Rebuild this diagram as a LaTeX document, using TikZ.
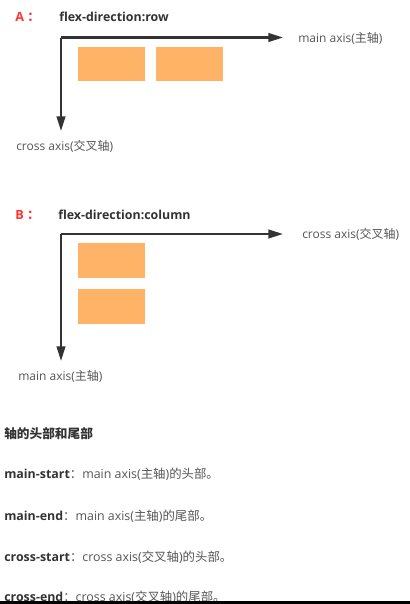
\documentclass[tikz,border=0pt]{standalone}
\usepackage{fontspec}
\setmainfont{Open Sans}
\newfontfamily\cjk{Noto Sans CJK SC}
\usepackage{xcolor}
\definecolor{boxorange}{RGB}{255,179,102}
\definecolor{axisgray}{RGB}{ 51, 51, 51}
\definecolor{labelgray}{RGB}{ 85, 85, 85}
\definecolor{tagred}{RGB}{255, 51, 51}
\usepackage{tikz}
\usetikzlibrary{arrows.meta, positioning}

\begin{document}
\begin{tikzpicture}[x=0.75pt, y=-0.75pt,
    axis/.style={draw=axisgray, line width=1.6pt, -{Triangle[length=11pt, width=6.5pt]}},
    itembox/.style={fill=boxorange, draw=none, minimum width=50pt, minimum height=26pt, inner sep=0pt, anchor=north west},
    tag/.style={text=tagred, font=\fontsize{9.5}{11}\selectfont\bfseries, anchor=west, inner sep=0pt},
    heading/.style={text=axisgray, font=\fontsize{9.3}{11}\selectfont\bfseries, anchor=west, inner sep=0pt},
    axislabel/.style={text=labelgray, font=\fontsize{9}{11}\selectfont, anchor=west, inner sep=0pt},
    noteline/.style={text=labelgray, font=\fontsize{9.3}{11}\selectfont, anchor=west, inner sep=0pt}
  ]
    \useasboundingbox (0,0) rectangle (410,604);

    \node[tag] (tagA) at (15,17) {A\hspace{2.5pt}{\cjk ：}};
    \node[heading] (headA) at (59,17) {flex-direction:row};
    \coordinate (originA) at (61,37.5);
    \coordinate (mainA) at (283,37.5);
    \coordinate (crossA) at (61,131);
    \draw[axis] (originA) -- (mainA);
    \draw[axis] (originA) -- (crossA);
    \node[axislabel] (mainlabelA) at (298,38) {main axis({\cjk 主轴})};
    \node[axislabel] (crosslabelA) at (16,146) {cross axis({\cjk 交叉轴})};
    \node[itembox] (itemA1) at (78,46.5) {};
    \node[itembox] (itemA2) at (156,46.5) {};

    \node[tag] (tagB) at (15,215) {B\hspace{2.5pt}{\cjk ：}};
    \node[heading] (headB) at (58,215) {flex-direction:column};
    \coordinate (originB) at (61,234);
    \coordinate (crossB) at (283,234);
    \coordinate (mainB) at (61,361);
    \draw[axis] (originB) -- (crossB);
    \draw[axis] (originB) -- (mainB);
    \node[axislabel] (crosslabelB) at (302,234) {cross axis({\cjk 交叉轴})};
    \node[axislabel] (mainlabelB) at (18,376) {main axis({\cjk 主轴})};
    \node[itembox] (itemB1) at (78,243) {};
    \node[itembox] (itemB2) at (78,289) {};

    \node[heading, font=\fontsize{9.5}{11}\selectfont\cjk\bfseries] (notetitle) at (4,434) {轴的头部和尾部};
    \node[noteline] (note1) at (4,474) {\textbf{\color{axisgray}main-start}{\cjk ：}main axis({\cjk 主轴})\cjk 的头部。};
    \node[noteline] (note2) at (4,516) {\textbf{\color{axisgray}main-end}{\cjk ：}main axis({\cjk 主轴})\cjk 的尾部。};
    \node[noteline] (note3) at (4,557) {\textbf{\color{axisgray}cross-start}{\cjk ：}cross axis({\cjk 交叉轴})\cjk 的头部。};
    \node[noteline] (note4) at (4,597) {\textbf{\color{axisgray}cross-end}{\cjk ：}cross axis({\cjk 交叉轴})\cjk 的尾部。};
    \fill[black] (0,600.5) rectangle (410,604);
  \end{tikzpicture}
\end{document}
